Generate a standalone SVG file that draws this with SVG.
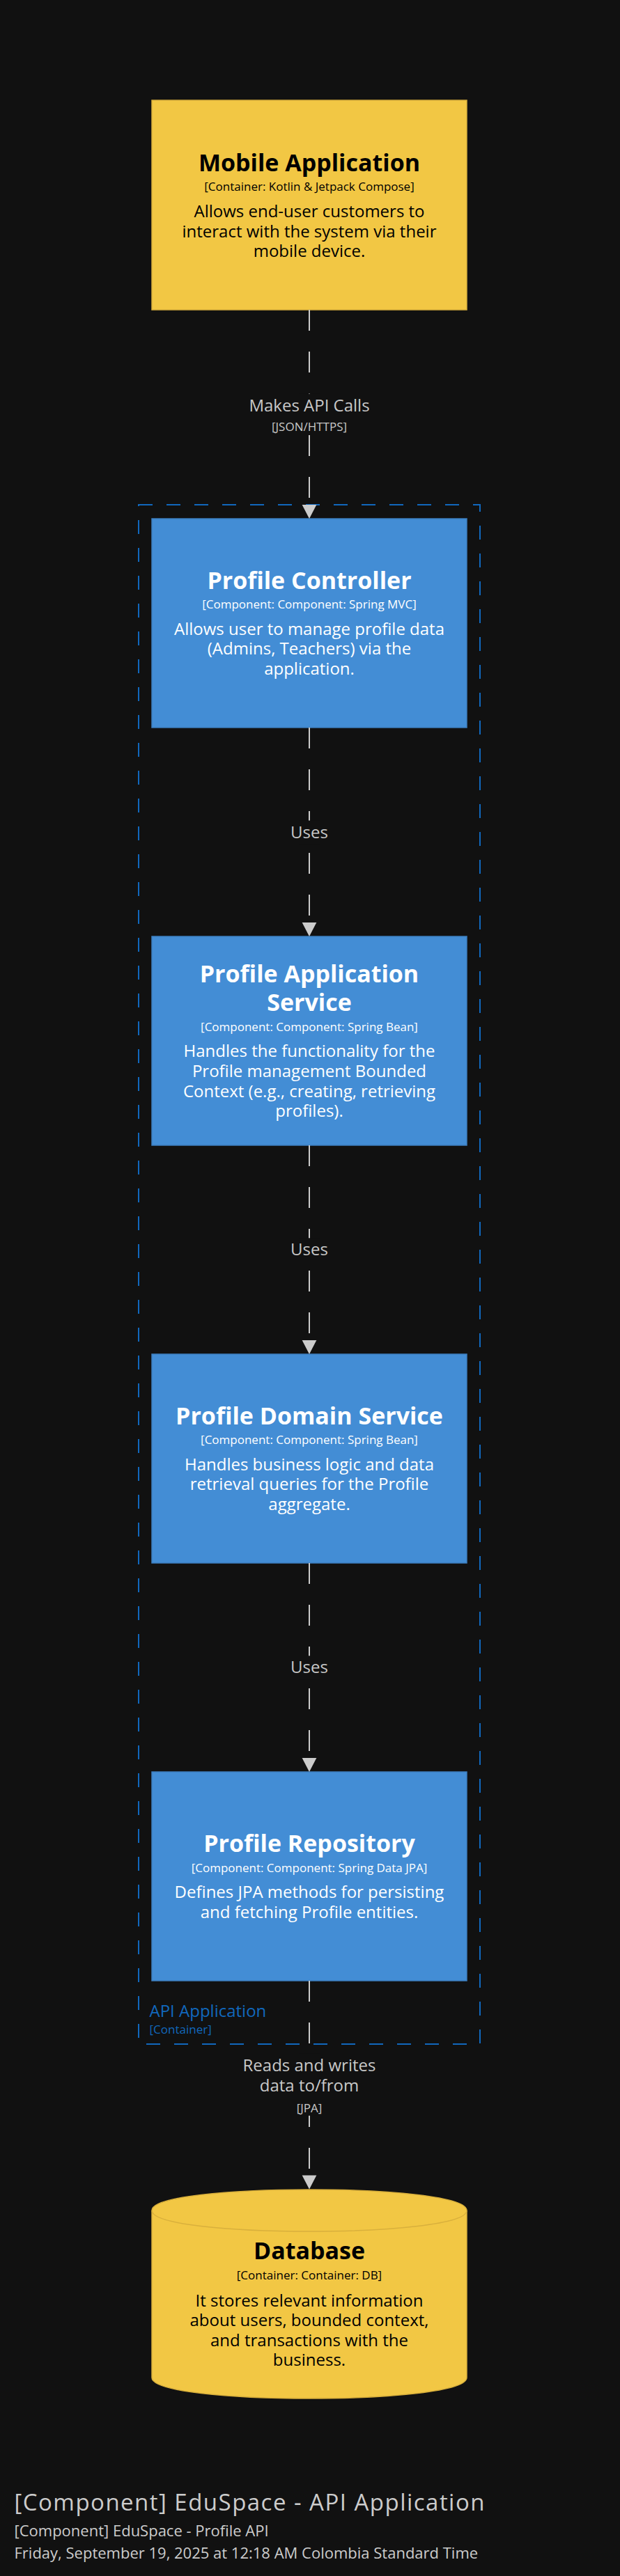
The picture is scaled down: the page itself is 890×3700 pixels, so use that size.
<svg xmlns="http://www.w3.org/2000/svg" width="890" height="3700" viewBox="0 0 890 3700">
<defs>
<marker id="arrow" markerUnits="userSpaceOnUse" markerWidth="22" markerHeight="22" refX="0" refY="10.35" orient="auto" overflow="visible">
<path d="M0,0 L20,10.35 L0,20.7 Z" fill="#CCCCCC"/>
</marker>
</defs>
<style>
text{font-family:"Open Sans","Noto Sans","Liberation Sans",sans-serif}
.title{font-size:34px;font-weight:bold;text-anchor:middle}
.sub{font-size:17px;text-anchor:middle}
.desc{font-size:24px;text-anchor:middle}
.blue rect{fill:#438DD5;stroke:#3C7FC0;stroke-width:1.5}
.blue text{fill:#FFFFFF}
.yellow rect,.yellow path.body{fill:#F2C744;stroke:#D9B03C;stroke-width:1.5}
.yellow text{fill:#000000}
.rel{stroke:#CCCCCC;stroke-width:2;stroke-dasharray:30 30;fill:none;marker-end:url(#arrow)}
.mask{fill:#111111}
.lbl{font-size:24px;fill:#C8C8C8;text-anchor:middle}
.tech{font-size:17px;fill:#C8C8C8;text-anchor:middle}
.foot{fill:#CCCCCC}
</style>
<rect x="0" y="0" width="890" height="3700" fill="#111111"/>

<g id="boundary-api-application">
<rect x="199" y="725" width="490" height="2211" fill="none" stroke="#1168BD" stroke-width="2" stroke-dasharray="20 20"/>
<text x="214.5" y="2897" font-size="24" fill="#1168BD">API Application</text>
<text x="214.5" y="2921" font-size="17" fill="#1168BD">[Container]</text>
</g>

<g id="node-mobile-application" class="yellow">
<rect x="218" y="144" width="452" height="301"/>
<text class="title" x="444" y="246">Mobile Application</text>
<text class="sub" x="444" y="274">[Container: Kotlin &amp; Jetpack Compose]</text>
<text class="desc" x="444" y="311.5">Allows end-user customers to</text>
<text class="desc" x="444" y="340.5">interact with the system via their</text>
<text class="desc" x="444" y="369">mobile device.</text>
</g>

<g id="node-profile-controller" class="blue">
<rect x="218" y="745" width="452" height="300"/>
<text class="title" x="444" y="845.5">Profile Controller</text>
<text class="sub" x="444" y="874">[Component: Component: Spring MVC]</text>
<text class="desc" x="444" y="911.5">Allows user to manage profile data</text>
<text class="desc" x="444" y="940">(Admins, Teachers) via the</text>
<text class="desc" x="444" y="969">application.</text>
</g>

<g id="node-profile-application-service" class="blue">
<rect x="218" y="1345" width="452" height="300"/>
<text class="title" x="444" y="1410.7">Profile Application</text>
<text class="title" x="444" y="1451.7">Service</text>
<text class="sub" x="444" y="1480.7">[Component: Component: Spring Bean]</text>
<text class="desc" x="444" y="1517.5">Handles the functionality for the</text>
<text class="desc" x="444" y="1546.5">Profile management Bounded</text>
<text class="desc" x="444" y="1575.5">Context (e.g., creating, retrieving</text>
<text class="desc" x="444" y="1604.3">profiles).</text>
</g>

<g id="node-profile-domain-service" class="blue">
<rect x="218" y="1945" width="452" height="300"/>
<text class="title" x="444" y="2046">Profile Domain Service</text>
<text class="sub" x="444" y="2074">[Component: Component: Spring Bean]</text>
<text class="desc" x="444" y="2111.7">Handles business logic and data</text>
<text class="desc" x="444" y="2140.3">retrieval queries for the Profile</text>
<text class="desc" x="444" y="2169">aggregate.</text>
</g>

<g id="node-profile-repository" class="blue">
<rect x="218" y="2545" width="452" height="300"/>
<text class="title" x="444" y="2659.5">Profile Repository</text>
<text class="sub" x="444" y="2688.7">[Component: Component: Spring Data JPA]</text>
<text class="desc" x="444" y="2726">Defines JPA methods for persisting</text>
<text class="desc" x="444" y="2754.8">and fetching Profile entities.</text>
</g>

<g id="node-database" class="yellow">
<path class="body" d="M218,3175 C218,3135 670,3135 670,3175 L670,3415 C670,3455 218,3455 218,3415 Z"/>
<path d="M218,3175 C218,3215 670,3215 670,3175" fill="none" stroke="#D9B03C" stroke-width="1.5"/>
<text class="title" x="444" y="3245.4">Database</text>
<text class="sub" x="444" y="3274">[Container: Container: DB]</text>
<text class="desc" x="444" y="3312.6">It stores relevant information</text>
<text class="desc" x="444" y="3341">about users, bounded context,</text>
<text class="desc" x="444" y="3369.6">and transactions with the</text>
<text class="desc" x="444" y="3398.4">business.</text>
</g>

<g id="connectors">
<line class="rel" x1="444" y1="445" x2="444" y2="725"/>
<rect class="mask" x="429" y="565.5" width="30" height="58.5"/>
<text class="lbl" x="444" y="590.5">Makes API Calls</text>
<text class="tech" x="444" y="618.7">[JSON/HTTPS]</text>

<line class="rel" x1="444" y1="1045" x2="444" y2="1325"/>
<rect class="mask" x="429" y="1178.5" width="30" height="34"/>
<text class="lbl" x="444" y="1204">Uses</text>

<line class="rel" x1="444" y1="1645" x2="444" y2="1925"/>
<rect class="mask" x="429" y="1778.3" width="30" height="34"/>
<text class="lbl" x="444" y="1803.3">Uses</text>

<line class="rel" x1="444" y1="2245" x2="444" y2="2525"/>
<rect class="mask" x="429" y="2378.3" width="30" height="34"/>
<text class="lbl" x="444" y="2403.3">Uses</text>

<line class="rel" x1="444" y1="2845" x2="444" y2="3124.5"/>
<rect class="mask" x="429" y="2949.5" width="30" height="89.3"/>
<text class="lbl" x="444" y="2975">Reads and writes</text>
<text class="lbl" x="444" y="3004">data to/from</text>
<text class="tech" x="444" y="3033.5">[JPA]</text>
</g>

<g id="footer" class="foot">
<text x="20.5" y="3606" font-size="33" textLength="675" lengthAdjust="spacing">[Component] EduSpace - API Application</text>
<text x="20.5" y="3643.3" font-size="22">[Component] EduSpace - Profile API</text>
<text x="20.5" y="3675" font-size="22">Friday, September 19, 2025 at 12:18 AM Colombia Standard Time</text>
</g>
</svg>
